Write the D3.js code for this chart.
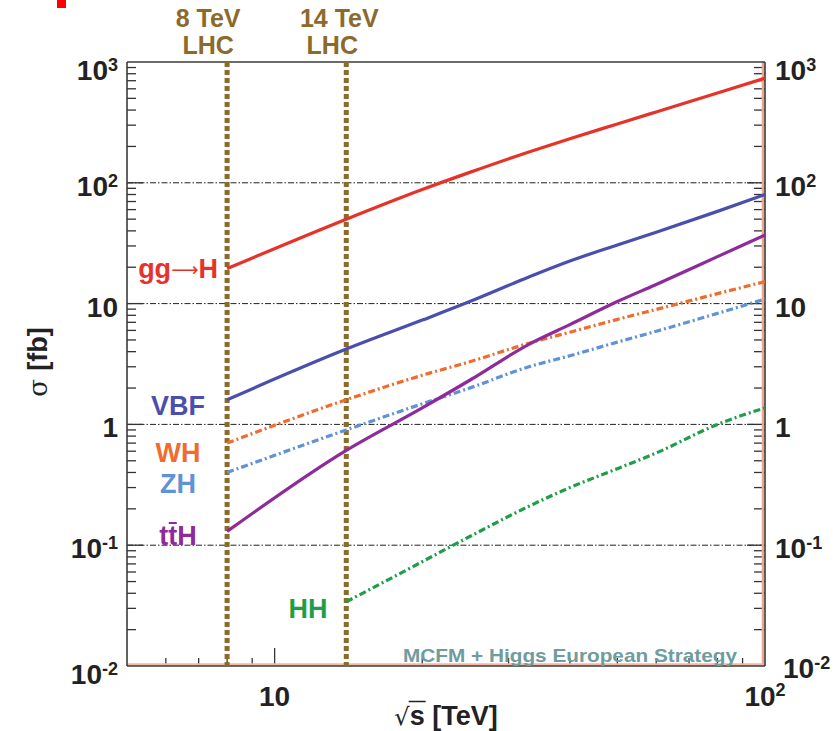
<!DOCTYPE html>
<html>
<head>
<meta charset="utf-8">
<script src="https://cdn.jsdelivr.net/npm/d3@7"></script>
<style>
  html, body { margin: 0; padding: 0; background: #ffffff; }
  svg { display: block; font-family: "Liberation Sans", Arial, Helvetica, sans-serif; }
</style>
</head>
<body>
<svg id="chart" width="836" height="731"></svg>
<script>
// Centre-of-mass energies (TeV) at which the cross sections are tabulated
const energies = [8, 14, 20, 25, 33, 40, 50, 60, 80, 100];

// Higgs production cross sections per process
const ggH = [19.5, 50, 88, 122, 180, 232, 307, 386, 554, 735];
const vbf = [1.6, 4.2, 7.3, 10.4, 16.6, 22.5, 30.6, 39, 58, 80];
const wh  = [0.70, 1.6, 2.55, 3.3, 4.7, 5.8, 7.4, 8.95, 12.1, 15.2];
const zh  = [0.40, 0.90, 1.48, 2.0, 3.0, 3.7, 4.8, 5.9, 8.3, 10.9];
const tth = [0.13, 0.61, 1.37, 2.32, 4.6, 6.7, 10.4, 14.4, 24.5, 37];
const hh  = [null, 0.034, 0.073, 0.118, 0.21, 0.30, 0.43, 0.58, 1.0, 1.37];

// LHC running energies marked by vertical lines
const lhcEnergies = [8, 14];
const lhcLabels = [["8 TeV", "LHC"], ["14 TeV", "LHC"]];

// Axis tick labels (mantissa, exponent)
const yTickValues = [1e-2, 1e-1, 1, 10, 1e2, 1e3];
const yTickLabels = [["10", "-2"], ["10", "-1"], ["1", ""], ["10", ""], ["10", "2"], ["10", "3"]];
const xTickValues = [10, 100];
const xTickLabels = [["10", ""], ["10", "2"]];

const svg = d3.select("#chart");
const W = 836, H = 731;
const plot = { left: 127, right: 765, top: 62, bottom: 666 };

const x = d3.scaleLog().domain([5, 100]).range([plot.left, plot.right]);
const y = d3.scaleLog().domain([1e-2, 1e3]).range([plot.bottom, plot.top]);

svg.append("rect").attr("width", W).attr("height", H).attr("fill", "#ffffff");

// small red marker in the corner
svg.append("rect").attr("x", 57).attr("y", 0).attr("width", 9).attr("height", 8).attr("fill", "#ff0000");

// horizontal grid at each decade
const gridVals = yTickValues.filter(v => v > 1e-2 && v < 1e3);
svg.append("g").selectAll("line").data(gridVals).join("line")
  .attr("x1", plot.left).attr("x2", plot.right)
  .attr("y1", d => y(d)).attr("y2", d => y(d))
  .attr("stroke", "#222").attr("stroke-width", 1)
  .attr("stroke-dasharray", "6,2,1.5,2");

// minor / major ticks
const yTicks = y.ticks();
const tickG = svg.append("g").attr("stroke", "#333").attr("stroke-width", 1.3);
yTicks.filter(v => v > 1e-2 && v < 1e3).forEach(v => {
  const isDecade = Math.abs(Math.log10(v) - Math.round(Math.log10(v))) < 1e-9;
  const lenL = isDecade ? 16 : 9;
  const lenR = isDecade ? 18 : 11;
  tickG.append("line").attr("x1", plot.left).attr("x2", plot.left + lenL)
    .attr("y1", y(v)).attr("y2", y(v));
  tickG.append("line").attr("x1", plot.right - lenR).attr("x2", plot.right)
    .attr("y1", y(v)).attr("y2", y(v));
});
x.ticks().filter(v => v > 5 && v < 100).forEach(v => {
  const len = v === 10 ? 18 : 8;
  tickG.append("line").attr("x1", x(v)).attr("x2", x(v))
    .attr("y1", plot.bottom).attr("y2", plot.bottom - len);
});

// frame
svg.append("line").attr("x1", plot.right - 2).attr("x2", plot.right - 2)
  .attr("y1", plot.top).attr("y2", plot.bottom).attr("stroke", "#eea58e").attr("stroke-width", 2.5);
svg.append("line").attr("x1", plot.left).attr("x2", plot.right)
  .attr("y1", plot.bottom - 1.5).attr("y2", plot.bottom - 1.5).attr("stroke", "#f2b7a5").attr("stroke-width", 2.5);
const frame = svg.append("g").attr("stroke", "#3a3a3a").attr("stroke-width", 1.6);
frame.append("line").attr("x1", plot.left).attr("x2", plot.left).attr("y1", plot.top).attr("y2", plot.bottom);
frame.append("line").attr("x1", plot.left).attr("x2", plot.right).attr("y1", plot.top).attr("y2", plot.top);
frame.append("line").attr("x1", plot.left).attr("x2", plot.right).attr("y1", plot.bottom).attr("y2", plot.bottom);
frame.append("line").attr("x1", plot.right).attr("x2", plot.right).attr("y1", plot.top).attr("y2", plot.bottom);

// LHC energy markers
const brown = "#8c6a2b";
svg.append("g").selectAll("line").data(lhcEnergies).join("line")
  .attr("x1", d => x(d)).attr("x2", d => x(d))
  .attr("y1", plot.top).attr("y2", plot.bottom)
  .attr("stroke", brown).attr("stroke-width", 5)
  .attr("stroke-dasharray", "5,3");

const lhcText = svg.append("g").attr("fill", brown).attr("font-weight", "bold")
  .attr("font-size", 25).attr("text-anchor", "middle");
const lhcOffsets = [[-19, -19], [-7, -14]];
lhcEnergies.forEach((e, i) => {
  lhcText.append("text").attr("x", x(e) + lhcOffsets[i][0]).attr("y", 27).text(lhcLabels[i][0]);
  lhcText.append("text").attr("x", x(e) + lhcOffsets[i][1]).attr("y", 54).text(lhcLabels[i][1]);
});

// cross-section curves
const series = [
  { name: "ggH", values: ggH, color: "#e63329", dash: null },
  { name: "VBF", values: vbf, color: "#4a4fae", dash: null },
  { name: "WH",  values: wh,  color: "#ef6c2e", dash: "7,3,2,3" },
  { name: "ZH",  values: zh,  color: "#5f92d6", dash: "7,3,2,3" },
  { name: "ttH", values: tth, color: "#8e2a9a", dash: null },
  { name: "HH",  values: hh,  color: "#1f9e4a", dash: "7,3,2,3" }
];
const line = d3.line()
  .defined(d => d.v != null)
  .x(d => x(d.e)).y(d => y(d.v))
  .curve(d3.curveMonotoneX);
svg.append("g").selectAll("path").data(series).join("path")
  .attr("d", s => line(energies.map((e, i) => ({ e, v: s.values[i] })).filter(d => d.v != null)))
  .attr("fill", "none")
  .attr("stroke", s => s.color)
  .attr("stroke-width", 3.2)
  .attr("stroke-dasharray", s => s.dash);

// process labels
const labG = svg.append("g").attr("font-weight", "bold").attr("font-size", 27).attr("text-anchor", "middle");
const ggText = labG.append("text").attr("x", 178).attr("y", 278).attr("fill", "#e63329");
ggText.append("tspan").text("gg");
ggText.append("tspan").attr("font-weight", "normal").attr("font-family", "DejaVu Sans")
  .attr("font-size", 19).attr("dy", -2).text("\u27F6");
ggText.append("tspan").attr("dy", 2).text("H");
labG.append("text").attr("x", 178).attr("y", 415).attr("fill", "#4a4fae").text("VBF");
labG.append("text").attr("x", 178).attr("y", 462).attr("fill", "#ef6c2e").text("WH");
labG.append("text").attr("x", 178).attr("y", 493).attr("fill", "#5f92d6").text("ZH");
const ttText = labG.append("text").attr("x", 178).attr("y", 545).attr("fill", "#8e2a9a").text("ttH");
labG.append("text").attr("x", 308).attr("y", 618).attr("fill", "#1f9e4a").text("HH");

// bar over the anti-top
{
  const node = ttText.node();
  const total = node.getComputedTextLength();
  const start = 178 - total / 2;
  const t1 = node.getSubStringLength(0, 1);
  const t2 = node.getSubStringLength(1, 1);
  svg.append("line")
    .attr("x1", start + t1 + 0.5).attr("x2", start + t1 + t2 - 0.5)
    .attr("y1", 523).attr("y2", 523)
    .attr("stroke", "#8e2a9a").attr("stroke-width", 2);
}

// y tick labels on both sides
const tickFont = 28, supFont = 18;
const yl = svg.append("g").attr("font-weight", "bold").attr("fill", "#222").attr("font-size", tickFont);
yTickValues.forEach((v, i) => {
  const isEnd = (v === 1e-2 || v === 1e3);
  const tl = yl.append("text").attr("x", 118).attr("y", y(v) + (isEnd ? 18 : 13)).attr("text-anchor", "end");
  tl.append("tspan").text(yTickLabels[i][0]);
  if (yTickLabels[i][1]) tl.append("tspan").attr("font-size", supFont).attr("dy", -9).text(yTickLabels[i][1]);

  const rx = v === 1e-2 ? plot.right + 18 : plot.right + 10;
  const rdy = v === 1e-2 ? 12 : (isEnd ? 18 : 13);
  const tr = yl.append("text").attr("x", rx).attr("y", y(v) + rdy).attr("text-anchor", "start");
  tr.append("tspan").text(yTickLabels[i][0]);
  if (yTickLabels[i][1]) tr.append("tspan").attr("font-size", supFont).attr("dy", -9).text(yTickLabels[i][1]);
});

// x tick labels
xTickValues.forEach((v, i) => {
  const t = yl.append("text").attr("x", x(v)).attr("y", 706).attr("text-anchor", "middle");
  t.append("tspan").text(xTickLabels[i][0]);
  if (xTickLabels[i][1]) t.append("tspan").attr("font-size", supFont).attr("dy", -10).text(xTickLabels[i][1]);
});

// x axis title: sqrt(s) [TeV]
{
  const cx = (plot.left + plot.right) / 2;
  const t = svg.append("text").attr("x", cx).attr("y", 725).attr("text-anchor", "middle")
    .attr("font-weight", "bold").attr("font-size", 27).attr("fill", "#222");
  t.append("tspan").attr("font-weight", "normal").attr("font-family", "DejaVu Sans").attr("font-size", 24).text("\u221A");
  t.append("tspan").text("s [TeV]");
  const node = t.node();
  const total = node.getComputedTextLength();
  const start = cx - total / 2;
  const r = node.getSubStringLength(0, 1);
  const s = node.getSubStringLength(1, 1);
  svg.append("line").attr("x1", start + r - 1).attr("x2", start + r + s + 1)
    .attr("y1", 701.5).attr("y2", 701.5).attr("stroke", "#222").attr("stroke-width", 1.5);
}

// y axis title
{
  const t = svg.append("text").attr("transform", "translate(47,362) rotate(-90)")
    .attr("text-anchor", "middle").attr("font-size", 27).attr("fill", "#222");
  t.append("tspan").attr("font-family", "DejaVu Serif").attr("font-size", 26).text("\u03C3 ");
  t.append("tspan").attr("font-weight", "bold").text("[fb]");
}

// source note
svg.append("text").attr("x", 403).attr("y", 662)
  .attr("font-weight", "bold").attr("font-size", 19).attr("fill", "#6f9c9c")
  .attr("textLength", 334).attr("lengthAdjust", "spacingAndGlyphs")
  .text("MCFM + Higgs European Strategy");
</script>
</body>
</html>
